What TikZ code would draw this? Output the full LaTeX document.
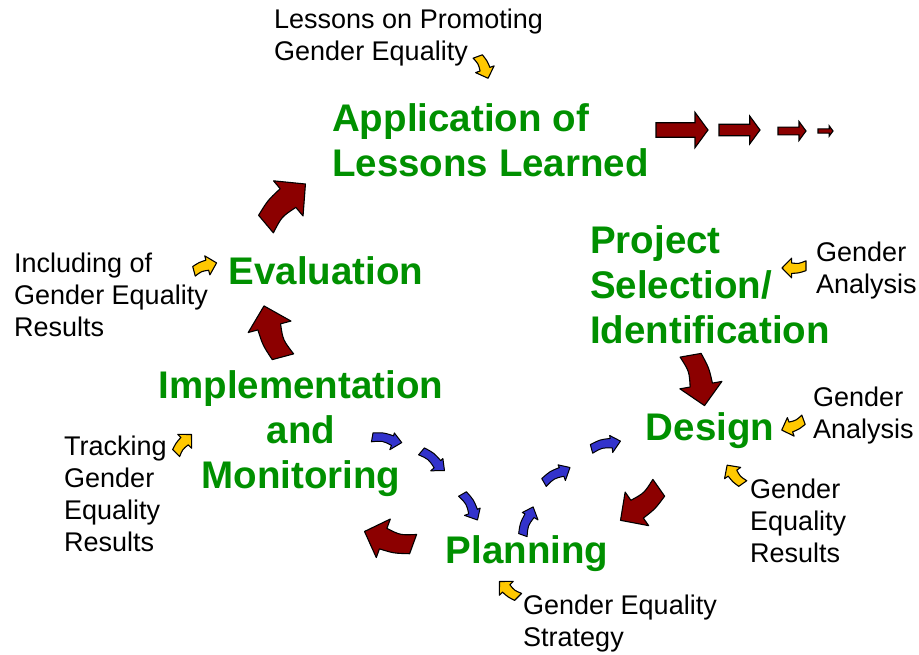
\documentclass[tikz,border=0pt]{standalone}
\usepackage{fontspec}
\setmainfont{Liberation Sans}
\definecolor{dred}{HTML}{8C0000}
\definecolor{ablue}{HTML}{3333CC}
\definecolor{ayel}{HTML}{FFC800}
\definecolor{tgreen}{HTML}{009000}
\tikzset{
  carrow/.pic={\path[draw=black,line width=1.1pt,line join=round,pic actions]
    (-1,-0.6) .. controls (-0.4,-0.35) .. (0.2,-0.42) -- (0.2,-0.82) -- (1,0)
    -- (0.2,0.82) -- (0.2,0.45) .. controls (-0.4,0.42) .. (-1,0.22) -- cycle;},
  sarrow/.pic={\path[draw=black,line width=1.1pt,line join=miter,pic actions]
    (-1,-0.28) -- (0.5,-0.28) -- (0.5,-0.68) -- (1,0) -- (0.5,0.68) -- (0.5,0.28)
    -- (-1,0.28) -- cycle;},
  farrow/.pic={\path[draw=black,line width=1pt,line join=round,pic actions]
    (-1,-0.3) .. controls (-0.3,-0.1) .. (0.35,-0.3) -- (0.3,-0.6) -- (1,0)
    -- (0.4,0.55) -- (0.38,0.35) .. controls (-0.3,0.45) .. (-1,0.3) -- cycle;},
  redarr/.style={fill=dred},
  bluearr/.style={fill=ablue,scale=15},
  yelarr/.style={fill=ayel,scale=12},
  gtitle/.style={text=tgreen,font=\fontsize{38.5}{45}\selectfont\bfseries,inner sep=0pt},
  lbl/.style={font=\fontsize{27}{32}\selectfont,inner sep=0pt,align=left},
}
\begin{document}
\begin{tikzpicture}[x=1pt,y=1pt]
\useasboundingbox[fill=white] (0,0) rectangle (919,-655);

% green stage titles
\node[gtitle,align=left,anchor=west] (app) at (332,-140) {Application of\\Lessons Learned};
\node[gtitle] (eval) at (326,-271) {Evaluation};
\node[gtitle,align=left,anchor=west] (proj) at (590,-285) {Project\\Selection/\\Identification};
\node[gtitle,align=center] (impl) at (301,-434) {Implementation\\and\\Monitoring};
\node[gtitle] (design) at (710,-431) {Design};
\node[gtitle] (plan) at (527,-554) {Planning};

% black labels
\node[lbl,anchor=west] (l1) at (274,-38) {Lessons on Promoting\\Gender Equality};
\node[lbl,anchor=west] (l2) at (14,-295) {Including of\\Gender Equality\\Results};
\node[lbl,anchor=west] (l3) at (64,-494) {Tracking\\Gender\\Equality\\Results};
\node[lbl,anchor=west] (l4) at (816,-271) {Gender\\Analysis};
\node[lbl,anchor=west] (l5) at (813,-416) {Gender\\Analysis};
\node[lbl,anchor=west] (l6) at (750,-521) {Gender\\Equality\\Results};
\node[lbl,anchor=west] (l7) at (523,-624) {Gender Equality\\Strategy};

% straight dark red arrows (top right)
\pic[redarr,scale=26] (s1) at (682,-130) {sarrow};
\pic[redarr,scale=20.5] (s2) at (739.5,-130) {sarrow};
\pic[redarr,scale=14] (s3) at (792,-131) {sarrow};
\pic[redarr,scale=7.5] (s4) at (825.5,-131) {sarrow};

% curved dark red arrows (process cycle)
\pic[redarr,scale=28,rotate=40] (r1) at (284,-202) {carrow};
\pic[redarr,scale=27,rotate=105] (r2) at (271,-332) {carrow};
\pic[redarr,scale=25,rotate=160] (r3) at (388,-540) {carrow};
\pic[redarr,scale=25,rotate=215] (r4) at (641,-506) {carrow};
\pic[redarr,scale=26,rotate=280] (r5) at (700,-380) {carrow};

% blue arrows
\pic[bluearr,rotate=-10] (b1) at (387,-440) {farrow};
\pic[bluearr,rotate=-40] (b2) at (433,-461) {farrow};
\pic[bluearr,rotate=-60] (b3) at (470,-507) {farrow};
\pic[bluearr,rotate=70] (b4) at (528,-521) {farrow};
\pic[bluearr,rotate=30] (b5) at (557,-475) {farrow};
\pic[bluearr,rotate=15] (b6) at (606,-445) {farrow};

% yellow arrows
\pic[yelarr,rotate=-70] (y1) at (484,-67) {carrow};
\pic[yelarr,rotate=15] (y2) at (205,-266) {carrow};
\pic[yelarr,rotate=180] (y3) at (794,-268) {carrow};
\pic[yelarr,rotate=200] (y4) at (793,-426) {carrow};
\pic[yelarr,rotate=45] (y5) at (183,-443) {carrow};
\pic[yelarr,rotate=125] (y6) at (734,-475) {carrow};
\pic[yelarr,rotate=135] (y7) at (508,-590) {carrow};
\end{tikzpicture}
\end{document}
